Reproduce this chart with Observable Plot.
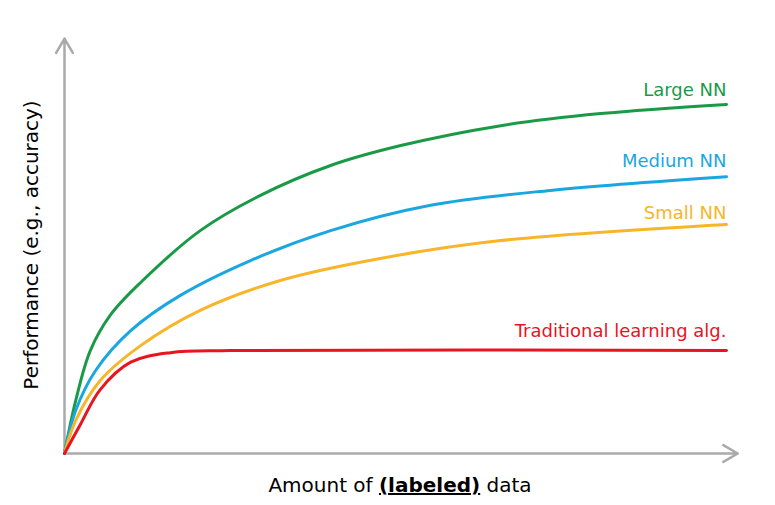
<!DOCTYPE html>
<html><head><meta charset="utf-8">
<script src="https://cdn.jsdelivr.net/npm/d3@7"></script>
<script src="https://cdn.jsdelivr.net/npm/@observablehq/plot@0.6"></script>
<style>body{margin:0;background:#fff}</style>
</head><body><div id="c"></div>
<script>
const largeX=[0,1.7,3.9,7.0,11.5,20.5,29.6,40.2,50.8,65.9,81,100];
const largeY=[0,12.8,24.8,33.5,41.2,53.7,62.2,69.4,74.2,79,81.9,84.1];
const medX=[0,1.7,4.7,10,17.5,28.1,40.2,55.3,73.4,100];
const medY=[0,10.4,20,29.6,38.1,46.5,53.7,59.8,63.4,66.7];
const smallX=[0,1.7,5.4,11.5,20.5,32.6,47.7,65.9,100];
const smallY=[0,8,17.6,26,34.5,41.7,47,51.3,55.2];
const tradX=[0,2.4,5.4,10,16,25.1,100];
const tradY=[0,7,15.4,22,24.3,24.8,24.8];
const names=["Large NN","Medium NN","Small NN","Traditional learning alg."];
const colors=["#1a9a47","#1aa7e0","#f9b52a","#e8141f"];
const labelY=[87.5,70.5,58,29.5];
const series=[[largeX,largeY],[medX,medY],[smallX,smallY],[tradX,tradY]];
const rows=series.flatMap(([xs,ys],i)=>xs.map((x,j)=>({x,y:ys[j],s:names[i]})));
const labels=names.map((n,i)=>({x:100,y:labelY[i],s:n}));
const chart=Plot.plot({
  width:775,height:505,marginLeft:64,marginRight:49,marginTop:38,marginBottom:52,
  x:{domain:[0,100],axis:null},y:{domain:[0,100],axis:null},
  color:{domain:names,range:colors},
  style:{fontFamily:"DejaVu Sans, sans-serif"},
  marks:[
    Plot.arrow([{x1:0,y1:0,x2:101.7,y2:0},{x1:0,y1:0,x2:0,y2:100}],{x1:"x1",y1:"y1",x2:"x2",y2:"y2",stroke:"#aaa",strokeWidth:2.5,headLength:10,bend:false}),
    Plot.line(rows,{x:"x",y:"y",z:"s",stroke:"s",strokeWidth:3,curve:"catmull-rom"}),
    Plot.text(labels,{x:"x",y:"y",text:"s",fill:"s",textAnchor:"end",fontSize:18})
  ]
});
document.getElementById("c").appendChild(chart);
const svg=d3.select(chart);
const t=svg.append("text").attr("x",400).attr("y",492).attr("text-anchor","middle").attr("font-size",20).attr("font-family","DejaVu Sans, sans-serif").attr("fill","#000");
t.append("tspan").text("Amount of ");
t.append("tspan").attr("font-weight","bold").attr("text-decoration","underline").text("(labeled)");
t.append("tspan").text(" data");
svg.append("text").attr("transform","translate(38,245) rotate(-90)").attr("text-anchor","middle").attr("font-size",20).attr("font-family","DejaVu Sans, sans-serif").attr("fill","#000").text("Performance (e.g., accuracy)");
</script></body></html>
